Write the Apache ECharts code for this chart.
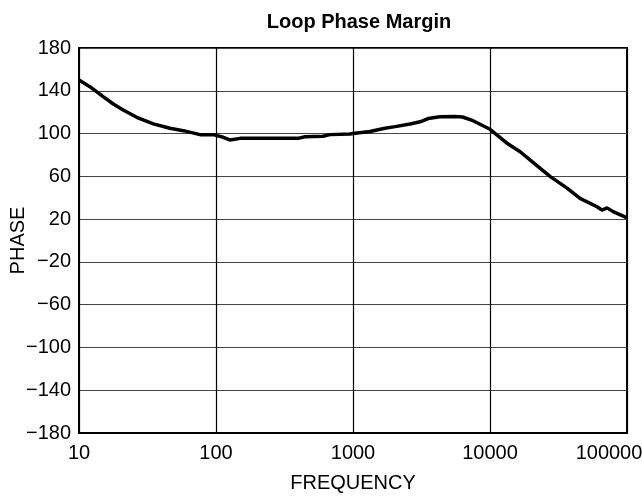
<!DOCTYPE html>
<html><head><meta charset="utf-8">
<script src="https://cdn.jsdelivr.net/npm/echarts@6/dist/echarts.min.js"></script>
<style>html,body{margin:0;padding:0;background:#fff}#c{width:642px;height:497px}</style>
</head><body><div id="c"></div>
<script>
const frequency = [10, 12, 15, 17.8, 21, 26.4, 34.9, 46.1, 57.7, 76.4, 95.5, 113, 126, 150, 248, 397, 447, 604, 679, 950, 1000, 1330, 1710, 2030, 2610, 3090, 3530, 4320, 5500, 6300, 7520, 10000, 13300, 16600, 20600, 27400, 36500, 45400, 60400, 65700, 71500, 79100, 96700, 100000];
const phase = [150, 143.8, 134.5, 127.6, 122, 115.2, 109, 104.9, 102.7, 99, 99, 96.5, 94, 95.5, 95.5, 95.5, 97, 97.5, 99, 99.5, 100, 102, 105, 106.5, 109, 111, 114, 115.7, 116, 115.5, 112, 104, 91, 83, 73, 60, 49, 39.4, 31.6, 28.5, 30.5, 27, 22, 21];
const yTicks = [-180, -140, -100, -60, -20, 20, 60, 100, 140, 180];
const xTicks = [10, 100, 1000, 10000, 100000];
const offset = 180;
const FONT = 'Liberation Sans';
const fmtY = v => { const n = Math.round(v - offset); return n < 0 ? '\u2212' + Math.abs(n) : String(n); };
const fmtX = v => { const r = Math.round(v); return r === xTicks[xTicks.length - 1] ? '{m|' + r + '}' : String(r); };
const chart = echarts.init(document.getElementById('c'));
chart.setOption({
  animation: false,
  title: { text: 'Loop Phase Margin', left: 354, top: 7, textAlign: 'center',
    textStyle: { fontFamily: FONT, fontWeight: 'bold', fontSize: 20, color: '#000' } },
  grid: { left: 79, right: 15, top: 48, bottom: 64, show: true, borderColor: '#000', borderWidth: 2, outerBoundsMode: 'none', containLabel: false },
  xAxis: { type: 'log', logBase: 10, min: xTicks[0], max: xTicks[xTicks.length - 1],
    name: 'FREQUENCY', nameLocation: 'middle', nameGap: 40, nameMoveOverlap: false,
    nameTextStyle: { fontFamily: FONT, fontSize: 20, color: '#000' },
    axisLine: { lineStyle: { color: '#000', width: 2 } }, axisTick: { show: false },
    axisLabel: { fontFamily: FONT, fontSize: 20, color: '#000', margin: 10, formatter: fmtX,
      rich: { m: { fontFamily: FONT, fontSize: 20, color: '#000', padding: [0, 36, 0, 0] } } },
    splitLine: { show: true, lineStyle: { color: '#000', width: 1.2 } }, minorSplitLine: { show: false } },
  yAxis: { type: 'value', min: yTicks[0] + offset, max: yTicks[yTicks.length - 1] + offset, interval: 40,
    name: 'PHASE', nameLocation: 'middle', nameGap: 51, nameRotate: 90, nameMoveOverlap: false,
    nameTextStyle: { fontFamily: FONT, fontSize: 20, color: '#000' },
    axisLine: { show: true, lineStyle: { color: '#000', width: 2 } }, axisTick: { show: false },
    axisLabel: { fontFamily: FONT, fontSize: 20, color: '#000', margin: 8, formatter: fmtY },
    splitLine: { show: true, lineStyle: { color: '#444', width: 1.2 } } },
  series: [{ type: 'line', data: frequency.map((f, i) => [f, phase[i] + offset]),
    showSymbol: false, smooth: false, lineStyle: { color: '#000', width: 3.5 } }]
});
</script></body></html>
